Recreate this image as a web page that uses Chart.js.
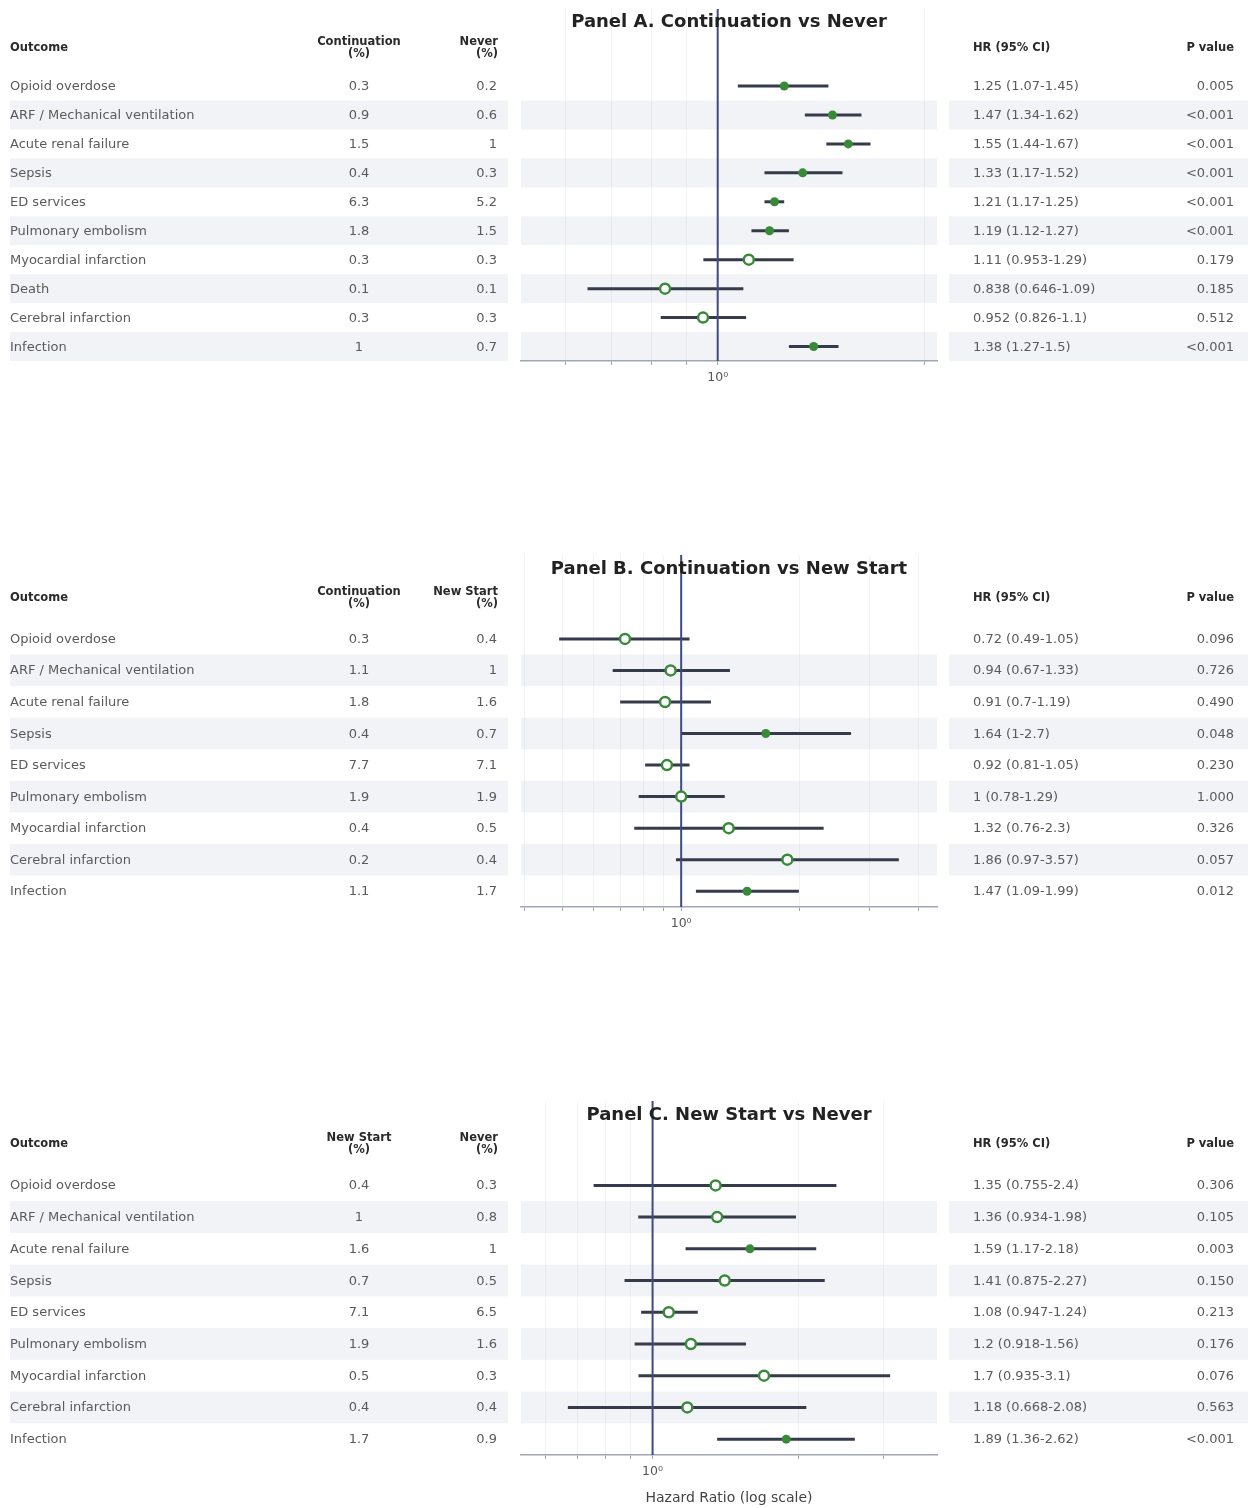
<!DOCTYPE html>
<html>
<head>
<meta charset="utf-8">
<script src="https://cdn.jsdelivr.net/npm/chart.js@4.4.1/dist/chart.umd.min.js"></script>
<style>
body { margin: 0; background: #fff; }
#page { position: relative; width: 1249px; height: 1508px; overflow: hidden; font-family: "DejaVu Sans", sans-serif; }
#page canvas { position: absolute; left: 0; }
.t { position: absolute; white-space: nowrap; transform: translateY(-50%); font-size: 13px; color: #5a5a5a; line-height: 1.2; z-index: 2; }
.h { font-weight: bold; font-size: 11.5px; color: #2a2a2a; line-height: 12px; }
.c { transform: translate(-50%, -50%); text-align: center; }
.r { transform: translate(-100%, -50%); text-align: right; }
.title { font-weight: bold; font-size: 18px; color: #222; }
</style>
</head>
<body>
<div id="page">
  <canvas id="panelA" width="1249" height="382"></canvas>
  <canvas id="panelB" width="1249" height="382"></canvas>
  <canvas id="panelC" width="1249" height="410"></canvas>
</div>
<script>
// Panel A: Continuation vs Never
var outcomesA = ['Opioid overdose', 'ARF / Mechanical ventilation', 'Acute renal failure', 'Sepsis', 'ED services',
  'Pulmonary embolism', 'Myocardial infarction', 'Death', 'Cerebral infarction', 'Infection'];
var pctA1 = [0.3, 0.9, 1.5, 0.4, 6.3, 1.8, 0.3, 0.1, 0.3, 1];
var pctA2 = [0.2, 0.6, 1, 0.3, 5.2, 1.5, 0.3, 0.1, 0.3, 0.7];
var hrA = [1.25, 1.47, 1.55, 1.33, 1.21, 1.19, 1.11, 0.838, 0.952, 1.38];
var loA = [1.07, 1.34, 1.44, 1.17, 1.17, 1.12, 0.953, 0.646, 0.826, 1.27];
var hiA = [1.45, 1.62, 1.67, 1.52, 1.25, 1.27, 1.29, 1.09, 1.1, 1.5];
var pA = ['0.005', '<0.001', '<0.001', '<0.001', '<0.001', '<0.001', '0.179', '0.185', '0.512', '<0.001'];

// Panels B and C share the outcome list
var outcomesBC = ['Opioid overdose', 'ARF / Mechanical ventilation', 'Acute renal failure', 'Sepsis', 'ED services',
  'Pulmonary embolism', 'Myocardial infarction', 'Cerebral infarction', 'Infection'];

// Panel B: Continuation vs New Start
var pctB1 = [0.3, 1.1, 1.8, 0.4, 7.7, 1.9, 0.4, 0.2, 1.1];
var pctB2 = [0.4, 1, 1.6, 0.7, 7.1, 1.9, 0.5, 0.4, 1.7];
var hrB = [0.72, 0.94, 0.91, 1.64, 0.92, 1, 1.32, 1.86, 1.47];
var loB = [0.49, 0.67, 0.7, 1, 0.81, 0.78, 0.76, 0.97, 1.09];
var hiB = [1.05, 1.33, 1.19, 2.7, 1.05, 1.29, 2.3, 3.57, 1.99];
var pB = ['0.096', '0.726', '0.490', '0.048', '0.230', '1.000', '0.326', '0.057', '0.012'];

// Panel C: New Start vs Never
var pctC1 = [0.4, 1, 1.6, 0.7, 7.1, 1.9, 0.5, 0.4, 1.7];
var pctC2 = [0.3, 0.8, 1, 0.5, 6.5, 1.6, 0.3, 0.4, 0.9];
var hrC = [1.35, 1.36, 1.59, 1.41, 1.08, 1.2, 1.7, 1.18, 1.89];
var loC = [0.755, 0.934, 1.17, 0.875, 0.947, 0.918, 0.935, 0.668, 1.36];
var hiC = [2.4, 1.98, 2.18, 2.27, 1.24, 1.56, 3.1, 2.08, 2.62];
var pC = ['0.306', '0.105', '0.003', '0.150', '0.213', '0.176', '0.076', '0.563', '<0.001'];

var tickValues = [0.1, 0.2, 0.3, 0.4, 0.5, 0.6, 0.7, 0.8, 0.9, 1, 2, 3, 4, 5, 6, 7, 8, 9, 10];

var green = '#388a38';
var band = '#f2f3f7';
var page = document.getElementById('page');

function addText(txt, x, y, cls) {
  var d = document.createElement('div');
  d.className = 't ' + (cls || '');
  d.innerHTML = txt;
  d.style.left = x + 'px';
  d.style.top = y + 'px';
  page.appendChild(d);
}

function drawPanel(id, top, title, head1, head2, outcomes, pct1, pct2, hr, lo, hi, p, axisTitle) {
  var n = outcomes.length;
  var yMax = n + 1.66;
  var rows = outcomes.map(function (o, i) { return n - 1 - i; });
  var sig = p.map(function (s) { return s.charAt(0) === '<' || parseFloat(s) < 0.05; });
  var xMin = Math.min.apply(null, lo) * 0.8;
  var xMax = Math.max.apply(null, hi) * 1.25;

  var ciSets = hr.map(function (v, i) {
    return {
      data: [{ x: lo[i], y: rows[i] }, { x: hi[i], y: rows[i] }],
      showLine: true, borderColor: '#353b4a', borderWidth: 3, pointRadius: 0, order: 3
    };
  });
  var filled = [], open = [];
  hr.forEach(function (v, i) {
    (sig[i] ? filled : open).push({ x: v, y: rows[i] });
  });

  var bandPlugin = {
    id: 'bands' + id,
    beforeDraw: function (chart) {
      var ctx = chart.ctx, ys = chart.scales.y, a = chart.chartArea;
      ctx.save();
      ctx.fillStyle = band;
      rows.forEach(function (r, i) {
        if (i % 2 === 1) {
          var y0 = ys.getPixelForValue(r + 0.5), y1 = ys.getPixelForValue(r - 0.5);
          ctx.fillRect(10, y0, 498, y1 - y0);
          ctx.fillRect(a.left, y0, a.right - a.left, y1 - y0);
          ctx.fillRect(949, y0, 299, y1 - y0);
        }
      });
      ctx.restore();
    }
  };

  var canvas = document.getElementById(id);
  canvas.style.top = top + 'px';
  var axisH = axisTitle ? 56 : 30;

  var chart = new Chart(canvas.getContext('2d'), {
    type: 'scatter',
    data: {
      datasets: ciSets.concat([
        { data: [{ x: 1, y: -0.5 }, { x: 1, y: yMax }], showLine: true, borderColor: '#3f4a80', borderWidth: 2, pointRadius: 0, order: 2 },
        { data: filled, pointRadius: 4.5, backgroundColor: green, borderWidth: 0, order: 1 },
        { data: open, pointRadius: 5, backgroundColor: '#fff', borderColor: green, borderWidth: 2.5, order: 0 }
      ])
    },
    options: {
      animation: false,
      responsive: false,
      layout: { autoPadding: false, padding: { left: 521, right: 312, top: 0, bottom: 0 } },
      plugins: { legend: { display: false }, tooltip: { enabled: false } },
      scales: {
        x: {
          type: 'logarithmic',
          min: xMin,
          max: xMax,
          afterBuildTicks: function (s) {
            s.ticks = tickValues.filter(function (v) { return v >= xMin && v <= xMax; })
              .map(function (v) { return { value: v }; });
          },
          afterFit: function (s) { s.height = axisH; },
          ticks: {
            autoSkip: false,
            maxRotation: 0,
            padding: 5,
            color: '#555',
            font: { family: 'DejaVu Sans', size: 12.5 },
            callback: function (v) { return v === 1 ? '10\u2070' : ''; }
          },
          grid: { color: 'rgba(175,182,198,0.16)', tickColor: '#a0a6b4', tickLength: 4 },
          border: { color: '#a0a6b4', width: 1.5 },
          title: {
            display: !!axisTitle,
            text: axisTitle || '',
            color: '#444',
            font: { family: 'DejaVu Sans', size: 14 }
          }
        },
        y: { type: 'linear', min: -0.5, max: yMax, display: false }
      }
    },
    plugins: [bandPlugin]
  });

  var ys = chart.scales.y;
  function yAt(v) { return top + ys.getPixelForValue(v); }

  addText(title, 729, yAt(n - 1 + 2.26), 'title c');
  var hy = yAt(n - 1 + 1.34);
  addText('Outcome', 10, hy, 'h');
  addText(head1 + '<br>(%)', 359, hy, 'h c');
  addText(head2 + '<br>(%)', 498, hy, 'h r');
  addText('HR (95% CI)', 973, hy, 'h');
  addText('P value', 1234, hy, 'h r');

  outcomes.forEach(function (o, i) {
    var y = yAt(rows[i]);
    addText(o, 10, y);
    addText(String(pct1[i]), 359, y, 'c');
    addText(String(pct2[i]), 497, y, 'r');
    addText(hr[i] + ' (' + lo[i] + '-' + hi[i] + ')', 973, y);
    addText(p[i], 1234, y, 'r');
  });
}

drawPanel('panelA', 9, 'Panel A. Continuation vs Never', 'Continuation', 'Never',
  outcomesA, pctA1, pctA2, hrA, loA, hiA, pA, null);
drawPanel('panelB', 555, 'Panel B. Continuation vs New Start', 'Continuation', 'New Start',
  outcomesBC, pctB1, pctB2, hrB, loB, hiB, pB, null);
drawPanel('panelC', 1101, 'Panel C. New Start vs Never', 'New Start', 'Never',
  outcomesBC, pctC1, pctC2, hrC, loC, hiC, pC, 'Hazard Ratio (log scale)');
</script>
</body>
</html>
